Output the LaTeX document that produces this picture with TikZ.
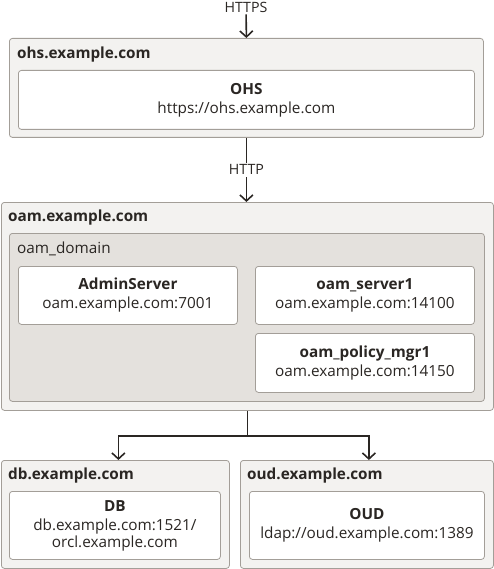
\documentclass[tikz,border=0pt]{standalone}
\usepackage{fontspec}
\setmainfont{Open Sans}
\usetikzlibrary{arrows.meta, positioning, calc}
\definecolor{oratext}{HTML}{2A2623}
\definecolor{orahost}{HTML}{F3F2F0}
\definecolor{oradomain}{HTML}{E4E1DD}
\definecolor{oraline}{HTML}{A39E98}

\begin{document}
\begin{tikzpicture}[x=1pt, y=-1pt,
  hostbox/.style={rectangle, draw=oraline, fill=orahost, rounded corners=3pt,
    line width=0.8pt, anchor=north west, inner sep=0pt},
  domainbox/.style={hostbox, fill=oradomain},
  srvbox/.style={hostbox, fill=white, align=center, text=oratext,
    font=\fontsize{15.3}{19}\selectfont},
  hostlabel/.style={anchor=west, inner sep=0pt, text=oratext,
    font=\fontsize{15.3}{16}\selectfont\bfseries},
  proto/.style={fill=white, inner sep=2pt, text=oratext,
    font=\fontsize{14.2}{15}\selectfont},
  conn/.style={draw=oratext, line width=1.6pt,
    -{Straight Barb[length=6pt, width=13pt]}},
]
  \useasboundingbox (0,0) rectangle (494,569);

  % ohs host
  \node[hostbox, minimum width=474pt, minimum height=99pt] (ohs) at (9,38) {};
  \node[hostlabel] (ohslbl) at ([shift={(8,17)}]ohs.north west) {ohs.example.com};
  \node[srvbox, minimum width=456pt, minimum height=59pt] (ohsapp) at (18,70)
    {\textbf{OHS}\\https://ohs.example.com};

  % oam host
  \node[hostbox, minimum width=492pt, minimum height=208pt] (oam) at (1,202) {};
  \node[hostlabel] (oamlbl) at ([shift={(7,16)}]oam.north west) {oam.example.com};
  \node[domainbox, minimum width=475pt, minimum height=168pt] (dom) at (9,233) {};
  \node[hostlabel, font=\fontsize{15.3}{16}\selectfont] (domlbl)
    at ([shift={(8,16)}]dom.north west) {oam\_domain};
  \node[srvbox, minimum width=219pt, minimum height=58pt] (admin) at (18,266)
    {\textbf{AdminServer}\\oam.example.com:7001};
  \node[srvbox, minimum width=219pt, minimum height=58pt] (srv1) at (255,266)
    {\textbf{oam\_server1}\\oam.example.com:14100};
  \node[srvbox, minimum width=219pt, minimum height=59pt] (pol) at (255,333)
    {\textbf{oam\_policy\_mgr1}\\oam.example.com:14150};

  % db and oud hosts
  \node[hostbox, minimum width=228pt, minimum height=108pt] (db) at (1,460) {};
  \node[hostlabel] (dblbl) at ([shift={(7,16)}]db.north west) {db.example.com};
  \node[srvbox, minimum width=211pt, minimum height=68pt] (dbapp) at (9,491)
    {\textbf{DB}\\db.example.com:1521/\\[-2pt]orcl.example.com};
  \node[hostbox, minimum width=253pt, minimum height=108pt] (oud) at (240,460) {};
  \node[hostlabel] (oudlbl) at ([shift={(7,16)}]oud.north west) {oud.example.com};
  \node[srvbox, minimum width=235pt, minimum height=68pt] (oudapp) at (249,491)
    {\textbf{OUD}\\ldap://oud.example.com:1389};

  % connectors
  \node[proto] (https) at (246,7) {HTTPS};
  \draw[conn] (https) -- (ohs.north);
  \draw[conn] (ohs.south) -- (ohs.south |- oam.north)
    node[proto, midway] (http) {HTTP};
  \coordinate (split) at ($(oam.south)+(0,25)$);
  \draw[conn] (oam.south) -- (split) -| ([xshift=3pt]db.north);
  \draw[conn] (split) -| ([xshift=2pt]oud.north);
\end{tikzpicture}
\end{document}
